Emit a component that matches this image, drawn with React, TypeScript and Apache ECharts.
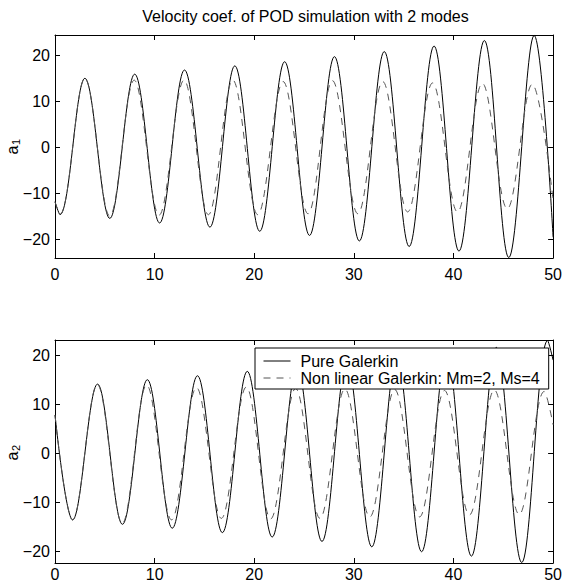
import React, { useEffect, useRef } from "react";
import * as echarts from "echarts";

const titleText = "Velocity coef. of POD simulation with 2 modes";
const legendNames = ["Pure Galerkin", "Non linear Galerkin: Mm=2, Ms=4"];
const xTicks = [0, 10, 20, 30, 40, 50];
const a1Ticks = [-20, -10, 0, 10, 20];
const a2Ticks = [-20, -10, 0, 10, 20];
const a1Range = [-24, 24.4];
const a2Range = [-22.4, 23.1];

// a1: pure Galerkin (solid) — [t, value] read at the curve's ends and at each peak / trough
const a1Pure = [
  [0, -11.8], [0.5, -14.6], [3.0, 15.0], [5.5, -15.4], [8.0, 15.9], [10.5, -16.4], [13.0, 16.8],
  [15.55, -17.3], [18.05, 17.7], [20.55, -18.2], [23.05, 18.6], [25.55, -19.1], [28.05, 19.7],
  [30.55, -20.3], [33.05, 20.8], [35.55, -21.5], [38.05, 22.0], [40.55, -22.5], [43.1, 23.2],
  [45.55, -23.9], [48.1, 24.3], [50, -19.5],
];
// a1: non linear Galerkin (dashed)
const a1Nonlin = [
  [0, -11.8], [0.5, -14.5], [3.0, 14.9], [5.5, -14.9], [7.95, 14.6], [10.45, -14.7], [12.95, 14.6],
  [15.4, -14.6], [17.85, 14.6], [20.35, -14.6], [22.9, 14.3], [25.4, -14.4], [27.85, 14.5],
  [30.4, -14.4], [32.9, 14.3], [35.4, -14.0], [37.9, 14.0], [40.4, -14.0], [42.9, 13.9],
  [45.4, -13.3], [47.9, 13.7], [50, -11.5],
];
// a2: pure Galerkin (solid)
const a2Pure = [
  [0, 7.8], [1.77, -13.6], [4.27, 14.1], [6.77, -14.5], [9.27, 15.0], [11.77, -15.3], [14.3, 15.8],
  [16.8, -16.2], [19.3, 16.7], [21.8, -17.1], [24.3, 17.6], [26.8, -18.0], [29.3, 18.6],
  [31.8, -19.1], [34.3, 19.6], [36.8, -20.1], [39.3, 20.6], [41.8, -21.0], [44.3, 21.6],
  [46.85, -22.3], [49.45, 23.0], [50, 19.0],
];
// a2: non linear Galerkin (dashed)
const a2Nonlin = [
  [0, 7.8], [1.77, -13.6], [4.25, 14.0], [6.75, -14.3], [9.2, 13.9], [11.7, -13.6], [14.2, 13.4],
  [16.7, -13.3], [19.2, 13.5], [21.65, -13.4], [24.15, 13.2], [26.6, -13.3], [29.1, 13.1],
  [31.6, -13.0], [34.1, 13.0], [36.6, -13.0], [39.1, 12.8], [41.6, -12.6], [44.1, 12.9],
  [46.6, -12.5], [49.1, 12.6], [50, 5.8],
];

const FONT = "'Liberation Sans', Arial, Helvetica, sans-serif";

export default function App() {
  const ref = useRef<HTMLDivElement>(null);
  useEffect(() => {
    document.body.style.margin = "0";
    if (!ref.current) return;
    const chart = echarts.init(ref.current, null, { renderer: "svg" });

    const mkX = (gridIndex: number, position: string, showLabel: boolean, margin: number) => ({
      type: "value",
      gridIndex,
      position,
      min: xTicks[0],
      max: xTicks[xTicks.length - 1],
      axisLine: { show: true, onZero: false, lineStyle: { color: "#000", width: 1 } },
      axisTick: { show: true, inside: true, length: 5, customValues: xTicks, lineStyle: { color: "#000", width: 1 } },
      axisLabel: { show: showLabel, customValues: xTicks, color: "#000", fontSize: 16, fontFamily: FONT, margin },
      splitLine: { show: false },
    });
    const mkY = (gridIndex: number, position: string, showLabel: boolean, ticks: number[], range: number[]) => ({
      type: "value",
      gridIndex,
      position,
      min: range[0],
      max: range[1],
      axisLine: { show: true, onZero: false, lineStyle: { color: "#000", width: 1 } },
      axisTick: { show: true, inside: true, length: 5, customValues: ticks, lineStyle: { color: "#000", width: 1 } },
      axisLabel: {
        show: showLabel,
        customValues: ticks,
        color: "#000",
        fontSize: 16,
        fontFamily: FONT,
        margin: 5,
        formatter: (v: number) => String(v).replace("-", "\u2212"),
      },
      splitLine: { show: false },
    });

    const solid = { color: "#000", width: 1, type: "solid" };
    const dashed = { color: "#555", width: 1, type: [7, 6] };
    const mkSeries = (name: string, data: number[][], xi: number, yi: number, ls: any) => ({
      type: "line",
      name,
      data,
      xAxisIndex: xi,
      yAxisIndex: yi,
      showSymbol: false,
      symbol: "none",
      smooth: 0.364,
      lineStyle: ls,
      itemStyle: { color: ls.color },
      emphasis: { disabled: true },
      clip: true,
    });

    const subLabel = (y: number, sub: string) => ({
      type: "group",
      x: 12,
      y,
      rotation: Math.PI / 2,
      children: [
        { type: "text", x: 0, y: 0, style: { text: "a", fontSize: 16, fontFamily: FONT, fill: "#000", textAlign: "center", textVerticalAlign: "middle" } },
        { type: "text", x: 8, y: 4, style: { text: sub, fontSize: 11, fontFamily: FONT, fill: "#000", textAlign: "center", textVerticalAlign: "middle" } },
      ],
    });

    chart.setOption({
      animation: false,
      grid: [
        { left: 55, top: 35, width: 501, height: 223 },
        { left: 55, top: 340, width: 501, height: 223 },
      ],
      xAxis: [mkX(0, "bottom", true, 8), mkX(0, "top", false, 8), mkX(1, "bottom", true, 3), mkX(1, "top", false, 8)],
      yAxis: [
        mkY(0, "left", true, a1Ticks, a1Range),
        mkY(0, "right", false, a1Ticks, a1Range),
        mkY(1, "left", true, a2Ticks, a2Range),
        mkY(1, "right", false, a2Ticks, a2Range),
      ],
      legend: {
        show: true,
        orient: "vertical",
        left: 255,
        top: 348,
        data: legendNames,
        selectedMode: false,
        itemWidth: 27,
        itemHeight: 14,
        itemGap: 1,
        padding: [5, 9, 3, 8],
        borderColor: "#000",
        borderWidth: 1,
        borderRadius: 0,
        backgroundColor: "#fff",
        itemStyle: { opacity: 0, borderWidth: 0 },
        lineStyle: { width: 1 },
        textStyle: { fontSize: 16, fontFamily: FONT, color: "#000", lineHeight: 16, padding: [0, 0, 0, 5] },
      },
      graphic: [
        {
          type: "text",
          x: 305.5,
          y: 16,
          style: { text: titleText, fontSize: 16, fontFamily: FONT, fill: "#000", textAlign: "center", textVerticalAlign: "middle" },
        },
        subLabel(150, "1"),
        subLabel(456, "2"),
      ],
      series: [
        mkSeries(legendNames[0], a1Pure, 0, 0, solid),
        mkSeries(legendNames[1], a1Nonlin, 0, 0, dashed),
        mkSeries(legendNames[0], a2Pure, 2, 2, solid),
        mkSeries(legendNames[1], a2Nonlin, 2, 2, dashed),
      ],
    });
    return () => chart.dispose();
  }, []);
  return <div ref={ref} style={{ width: 565, height: 584 }} />;
}
